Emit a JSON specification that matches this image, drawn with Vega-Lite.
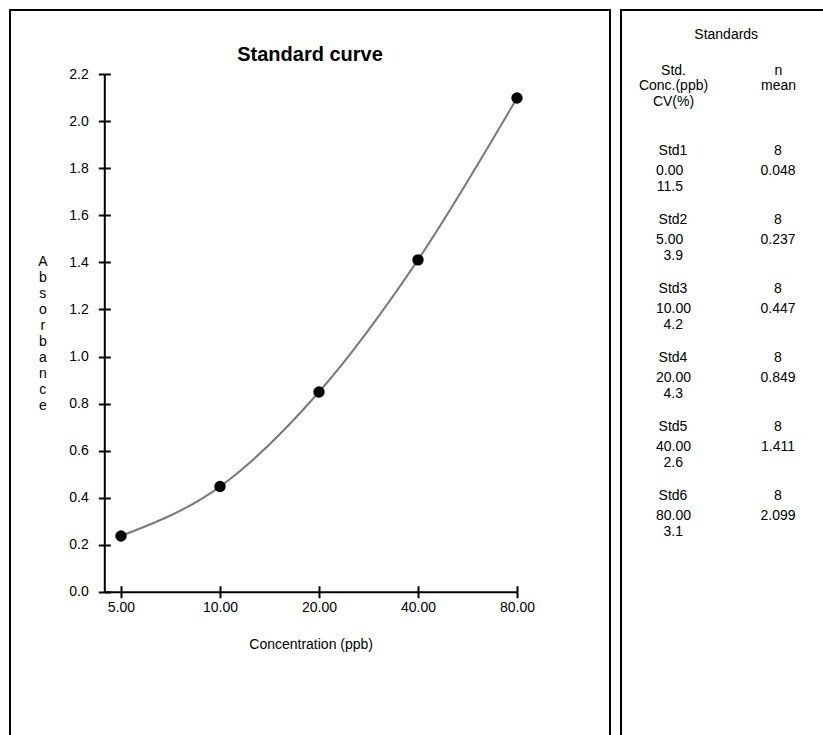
{
  "$schema": "https://vega.github.io/schema/vega-lite/v6.json",
  "background": "white",
  "padding": {"left": 9, "top": 9, "right": -9, "bottom": -10},
  "spacing": 9,
  "datasets": {
    "standards": [
      {"std": "Std1", "n": 8, "conc": 0, "mean": 0.048, "cv": 11.5},
      {"std": "Std2", "n": 8, "conc": 5, "mean": 0.237, "cv": 3.9},
      {"std": "Std3", "n": 8, "conc": 10, "mean": 0.447, "cv": 4.2},
      {"std": "Std4", "n": 8, "conc": 20, "mean": 0.849, "cv": 4.3},
      {"std": "Std5", "n": 8, "conc": 40, "mean": 1.411, "cv": 2.6},
      {"std": "Std6", "n": 8, "conc": 80, "mean": 2.099, "cv": 3.1}
    ]
  },
  "config": {
    "font": "Liberation Sans",
    "view": {"stroke": "black", "strokeWidth": 2},
    "axis": {
      "grid": false,
      "domainColor": "black",
      "domainWidth": 2,
      "tickColor": "black",
      "tickWidth": 2,
      "tickSize": 6,
      "labelColor": "black",
      "labelFont": "Liberation Sans",
      "labelFontSize": 14,
      "titleFont": "Liberation Sans",
      "titleFontSize": 14,
      "titleFontWeight": "normal",
      "titleColor": "black"
    },
    "text": {"font": "Liberation Sans", "fontSize": 14, "color": "black"}
  },
  "hconcat": [
    {
      "width": 600,
      "height": 735,
      "title": {
        "text": "Standard curve",
        "fontSize": 20,
        "fontWeight": "bold",
        "font": "Liberation Sans",
        "color": "black",
        "anchor": "middle",
        "baseline": "alphabetic",
        "offset": -71
      },
      "data": {"name": "standards"},
      "transform": [{"filter": "datum.conc > 0"}],
      "layer": [
        {
          "mark": {"type": "line", "interpolate": "monotone", "color": "#7a7a7a", "strokeWidth": 2},
          "encoding": {
            "x": {
              "field": "conc",
              "type": "quantitative",
              "scale": {"type": "log", "base": 2, "domain": [4.449, 80], "range": [94.3, 507], "nice": false},
              "axis": {
                "orient": "bottom",
                "offset": -153.3,
                "values": [5, 10, 20, 40, 80],
                "format": ".2f",
                "labelPadding": 3,
                "labelFlush": false,
                "labelOverlap": false,
                "title": "Concentration (ppb)",
                "titleY": 52.3,
                "titleBaseline": "middle"
              }
            },
            "y": {
              "field": "mean",
              "type": "quantitative",
              "scale": {"domain": [0, 2.2], "range": [581.7, 64.3], "nice": false, "zero": false},
              "axis": {
                "orient": "left",
                "offset": -94.3,
                "values": [0, 0.2, 0.4, 0.6, 0.8, 1.0, 1.2, 1.4, 1.6, 1.8, 2.0, 2.2],
                "format": ".1f",
                "labelPadding": 10,
                "labelFlush": false,
                "labelOverlap": false,
                "title": ["A", "b", "s", "o", "r", "b", "a", "n", "c", "e"],
                "titleAngle": 0,
                "titleAlign": "center",
                "titleBaseline": "middle",
                "titleLineHeight": 16.1,
                "titleX": -62,
                "titleY": 251
              }
            }
          }
        },
        {
          "mark": {"type": "circle", "size": 130, "color": "black", "opacity": 1},
          "encoding": {
            "x": {
              "field": "conc",
              "type": "quantitative",
              "scale": {"type": "log", "base": 2, "domain": [4.449, 80], "range": [94.3, 507], "nice": false},
              "axis": {
                "orient": "top",
                "offset": -581.7,
                "values": [5, 10, 20, 40, 80],
                "labels": false,
                "domain": false,
                "title": null
              }
            },
            "y": {
              "field": "mean",
              "type": "quantitative",
              "scale": {"domain": [0, 2.2], "range": [581.7, 64.3], "nice": false, "zero": false},
              "axis": {
                "orient": "right",
                "offset": -505.7,
                "values": [0, 0.2, 0.4, 0.6, 0.8, 1.0, 1.2, 1.4, 1.6, 1.8, 2.0, 2.2],
                "labels": false,
                "domain": false,
                "title": null
              }
            }
          }
        }
      ],
      "resolve": {"axis": {"x": "independent", "y": "independent"}}
    },
    {
      "width": 210,
      "height": 735,
      "data": {"name": "standards"},
      "encoding": {
        "y": {
          "field": "std",
          "type": "nominal",
          "scale": {"type": "point", "domain": ["Std1", "Std2", "Std3", "Std4", "Std5", "Std6"], "range": [141, 486], "padding": 0},
          "axis": null
        }
      },
      "layer": [
        {
          "mark": {"type": "text", "align": "center", "baseline": "middle"},
          "encoding": {
            "x": {
              "datum": "L",
              "type": "nominal",
              "scale": {"type": "point", "domain": ["L", "R"], "range": [52, 157], "padding": 0},
              "axis": {
                "orient": "top",
                "offset": -53.3,
                "domain": false,
                "ticks": false,
                "tickSize": 0,
                "labelPadding": 0,
                "labelAngle": 0,
                "labelAlign": "center",
                "labelBaseline": "top",
                "labelLineHeight": 15.5,
                "labelExpr": "datum.value == 'L' ? ['Std.', 'Conc.(ppb)', 'CV(%)'] : ['n', 'mean']",
                "title": "Standards",
                "titleX": 104.7,
                "titleY": -29,
                "titleAlign": "center",
                "titleBaseline": "middle"
              }
            },
            "text": {"field": "std", "type": "nominal"}
          }
        },
        {
          "mark": {"type": "text", "align": "left", "baseline": "middle", "dx": -17, "dy": 19.5},
          "encoding": {
            "x": {"datum": "L", "type": "nominal"},
            "text": {"field": "conc", "type": "quantitative", "format": ".2f"}
          }
        },
        {
          "mark": {"type": "text", "align": "right", "baseline": "middle", "dx": 10, "dy": 35.5},
          "encoding": {
            "x": {"datum": "L", "type": "nominal"},
            "text": {"field": "cv", "type": "quantitative", "format": ".1f"}
          }
        },
        {
          "mark": {"type": "text", "align": "center", "baseline": "middle"},
          "encoding": {
            "x": {"datum": "R", "type": "nominal"},
            "text": {"field": "n", "type": "quantitative", "format": "d"}
          }
        },
        {
          "mark": {"type": "text", "align": "center", "baseline": "middle", "dy": 19.5},
          "encoding": {
            "x": {"datum": "R", "type": "nominal"},
            "text": {"field": "mean", "type": "quantitative", "format": ".3f"}
          }
        }
      ]
    }
  ]
}
